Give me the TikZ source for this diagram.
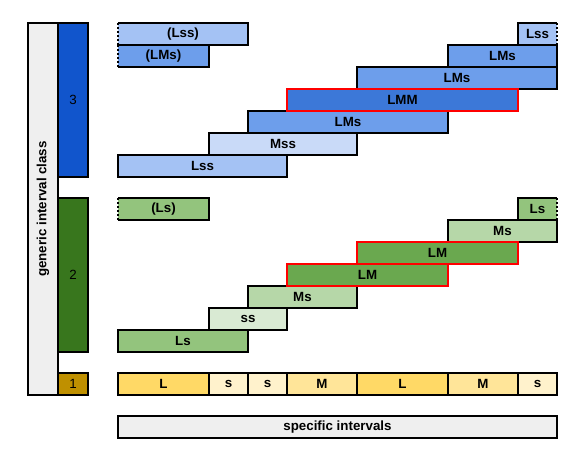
\documentclass[tikz,border=0pt]{standalone}
\usepackage{fontspec}
\setmainfont{Liberation Sans}
\definecolor{bA}{HTML}{A4C2F4}
\definecolor{bB}{HTML}{6D9EEB}
\definecolor{bC}{HTML}{3C78D8}
\definecolor{bD}{HTML}{C9DAF8}
\definecolor{gA}{HTML}{93C47D}
\definecolor{gB}{HTML}{B6D7A8}
\definecolor{gC}{HTML}{6AA84F}
\definecolor{gD}{HTML}{D9EAD3}
\definecolor{yL}{HTML}{FFD966}
\definecolor{yM}{HTML}{FFE599}
\definecolor{yS}{HTML}{FFF2CC}
\definecolor{barB}{HTML}{1155CC}
\definecolor{barG}{HTML}{38761D}
\definecolor{barY}{HTML}{BF9000}
\definecolor{grayF}{HTML}{EFEFEF}
\tikzset{
  bx/.style={rectangle, draw=black, line width=1.5pt, inner sep=0pt, outer sep=0pt, anchor=north west, font=\fontsize{10}{12}\selectfont\bfseries, text=black},
  nobx/.style={rectangle, draw=none, inner sep=0pt, outer sep=0pt, anchor=north west, font=\fontsize{10}{12}\selectfont\bfseries, text=black},
  edge3/.style={line width=1.5pt, line join=miter},
  dashedge/.style={line width=0.9pt, dash pattern=on 1.5pt off 1.5pt},
  redbx/.style={bx, draw=red}
}
% name, x1, y1, x2, y2, fill, text
\newcommand\gbox[8][bx]{\node[#1, fill=#7, minimum width={(#5-#3)*0.75pt}, minimum height={(#6-#4)*0.75pt}] (#2) at (#3,#4) {#8};}
\begin{document}
\begin{tikzpicture}[x=0.75pt,y=-0.75pt]
\useasboundingbox (0,0) rectangle (585,466);
% left bars
\gbox{gray}{28}{23}{58}{395}{grayF}{}
\node[rotate=90, font=\fontsize{10}{12}\selectfont\bfseries] (gicl) at (gray.center) {generic interval class};
\node[bx, fill=barB, minimum width={30*0.75pt}, minimum height={154*0.75pt}, font=\fontsize{10}{12}\selectfont] (c3) at (58,23) {3};
\node[bx, fill=barG, minimum width={30*0.75pt}, minimum height={154*0.75pt}, font=\fontsize{10}{12}\selectfont] (c2) at (58,198) {2};
\node[bx, fill=barY, minimum width={30*0.75pt}, minimum height={22*0.75pt}, font=\fontsize{10}{12}\selectfont] (c1) at (58,373) {1};
% blue rows
\gbox[nobx]{b1a}{118}{23}{248}{45}{bA}{(Lss)}
\draw[edge3] (b1a.north west) -- (b1a.north east) -- (b1a.south east) -- (b1a.south west);
\draw[dashedge] (b1a.south west) -- (b1a.north west);
\gbox[nobx]{b1b}{518}{23}{557}{45}{bA}{Lss}
\draw[edge3] (b1b.north east) -- (b1b.north west) -- (b1b.south west) -- (b1b.south east);
\draw[dashedge] (b1b.south east) -- (b1b.north east);
\gbox[nobx]{b2a}{118}{45}{209}{67}{bB}{(LMs)}
\draw[edge3] (b2a.north west) -- (b2a.north east) -- (b2a.south east) -- (b2a.south west);
\draw[dashedge] (b2a.south west) -- (b2a.north west);
\gbox{b2b}{448}{45}{557}{67}{bB}{LMs}
\gbox{b3}{357}{67}{557}{89}{bB}{LMs}
\gbox{b5}{248}{111}{448}{133}{bB}{LMs}
\gbox{b6}{209}{133}{357}{155}{bD}{Mss}
\gbox{b7}{118}{155}{287}{177}{bA}{Lss}
\gbox[redbx]{b4}{287}{89}{518}{111}{bC}{LMM}
% green rows
\gbox[nobx]{g1a}{118}{198}{209}{220}{gA}{(Ls)}
\draw[edge3] (g1a.north west) -- (g1a.north east) -- (g1a.south east) -- (g1a.south west);
\draw[dashedge] (g1a.south west) -- (g1a.north west);
\gbox[nobx]{g1b}{518}{198}{557}{220}{gA}{Ls}
\draw[edge3] (g1b.north east) -- (g1b.north west) -- (g1b.south west) -- (g1b.south east);
\draw[dashedge] (g1b.south east) -- (g1b.north east);
\gbox{g2}{448}{220}{557}{242}{gB}{Ms}
\gbox{g5}{248}{286}{357}{308}{gB}{Ms}
\gbox{g6}{209}{308}{287}{330}{gD}{ss}
\gbox{g7}{118}{330}{248}{352}{gA}{Ls}
\gbox[redbx]{g3}{357}{242}{518}{264}{gC}{LM}
\gbox[redbx]{g4}{287}{264}{448}{286}{gC}{LM}
% specific row
\gbox{y1}{118}{373}{209}{395}{yL}{L}
\gbox{y2}{209}{373}{248}{395}{yS}{s}
\gbox{y3}{248}{373}{287}{395}{yS}{s}
\gbox{y4}{287}{373}{357}{395}{yM}{M}
\gbox{y5}{357}{373}{448}{395}{yL}{L}
\gbox{y6}{448}{373}{518}{395}{yM}{M}
\gbox{y7}{518}{373}{557}{395}{yS}{s}
\gbox{spec}{118}{416}{557}{438}{grayF}{specific intervals}
\end{tikzpicture}
\end{document}
